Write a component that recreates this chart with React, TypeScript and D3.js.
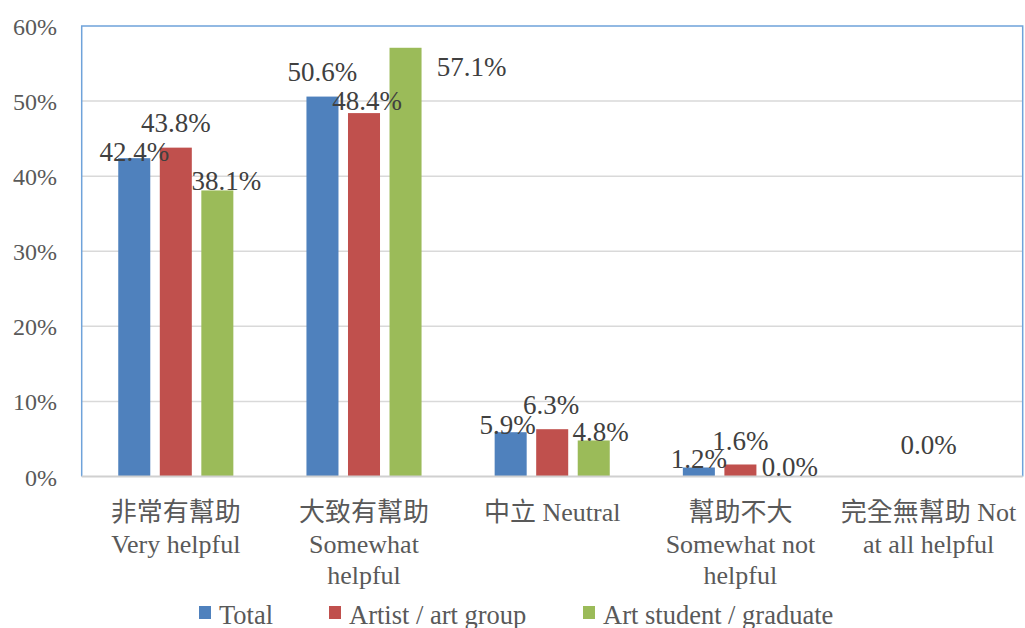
import React from "react";
import * as d3 from "d3";

const categories: string[][] = [
  ["非常有幫助", "Very helpful"],
  ["大致有幫助", "Somewhat", "helpful"],
  ["中立 Neutral"],
  ["幫助不大", "Somewhat not", "helpful"],
  ["完全無幫助 Not", "at all helpful"],
];
const seriesNames = ["Total", "Artist / art group", "Art student / graduate"];
const totalValues: (number | null)[] = [0.424, 0.506, 0.059, 0.012, null];
const artistValues: (number | null)[] = [0.438, 0.484, 0.063, 0.016, 0.0];
const studentValues: (number | null)[] = [0.381, 0.571, 0.048, 0.0, null];
const yTicks = [0, 0.1, 0.2, 0.3, 0.4, 0.5, 0.6];

// label nudges [dx, dy relative to bar top], per series per category
const labelNudges: [number, number][][] = [
  [[0, 3], [0, -16], [-3, 2], [0, 1], [0, 0]],
  [[0, -16], [3, -3], [-1, -15], [0, -14], [0, -23]],
  [[9, 0], [66, 28], [7, 1], [8, -1], [0, 0]],
];

const colors = ["#4F81BD", "#C0504D", "#9BBB59"];

const W = 1025;
const H = 628;
const left = 81.7;
const right = 1022.7;
const top = 26;
const bottom = 476.5;

const SERIF = "Liberation Serif";
const MIXED = "Liberation Serif, Noto Sans CJK TC";

export default function App() {
  const seriesValues = [totalValues, artistValues, studentValues];
  const x0 = d3.scaleBand<number>().domain(d3.range(categories.length)).range([left, right]).padding(0);
  const x1 = d3
    .scaleBand<number>()
    .domain([0, 1, 2])
    .range([0, x0.bandwidth()])
    .paddingInner(0.229)
    .paddingOuter(0.88);
  const y = d3.scaleLinear().domain([0, 0.6]).range([bottom, top]);
  const fmt = d3.format(".1%");

  return (
    <svg
      width={W}
      height={H}
      style={{ position: "absolute", left: 0, top: 0, background: "#fff" }}
    >
      <rect x={0} y={0} width={W} height={H} fill="#fff" />
      {/* gridlines */}
      {yTicks.slice(1, -1).map((t) => (
        <line key={t} x1={left} x2={right} y1={y(t)} y2={y(t)} stroke="#D9D9D9" strokeWidth={1.5} />
      ))}
      {/* plot border (top/left/right) */}
      <path
        d={`M${left},${bottom}V${top}H${right}V${bottom}`}
        fill="none"
        stroke="#6FA3DA"
        strokeWidth={1.5}
      />
      {/* y tick labels */}
      {yTicks.map((t) => (
        <text
          key={t}
          x={57}
          y={y(t) + 9}
          textAnchor="end"
          fontSize={24}
          fill="#595959"
          style={{ fontFamily: SERIF }}
        >
          {d3.format(".0%")(t)}
        </text>
      ))}
      {/* bars */}
      {seriesValues.map((vals, s) =>
        vals.map((v, c) =>
          v === null || v === 0 ? null : (
            <rect
              key={`b${s}-${c}`}
              x={(x0(c) as number) + (x1(s) as number)}
              y={y(v)}
              width={x1.bandwidth()}
              height={y(0) - y(v)}
              fill={colors[s]}
            />
          )
        )
      )}
      {/* x axis line */}
      <line x1={left} x2={right} y1={bottom} y2={bottom} stroke="#D0D0D0" strokeWidth={2} />
      {/* data labels */}
      {seriesValues.map((vals, s) =>
        vals.map((v, c) => {
          if (v === null) return null;
          const [dx, dy] = labelNudges[s][c];
          const cx = (x0(c) as number) + (x1(s) as number) + x1.bandwidth() / 2;
          return (
            <text
              key={`l${s}-${c}`}
              x={cx + dx}
              y={y(v) + dy}
              textAnchor="middle"
              fontSize={27}
              fill="#404040"
              style={{ fontFamily: SERIF }}
            >
              {fmt(v)}
            </text>
          );
        })
      )}
      {/* category labels */}
      {categories.map((lines, c) => (
        <text
          key={`c${c}`}
          x={(x0(c) as number) + x0.bandwidth() / 2}
          y={521}
          textAnchor="middle"
          fontSize={26}
          fill="#595959"
          style={{ fontFamily: MIXED }}
        >
          {lines.map((ln, i) => (
            <tspan key={i} x={(x0(c) as number) + x0.bandwidth() / 2} dy={i === 0 ? 0 : 31.5}>
              {ln}
            </tspan>
          ))}
        </text>
      ))}
      {/* legend */}
      {(() => {
        const legendX = [199, 329, 583];
        return seriesNames.map((n, s) => (
          <g key={`lg${s}`}>
            <rect x={legendX[s]} y={606} width={12} height={13} fill={colors[s]} />
            <text
              x={legendX[s] + 20}
              y={624}
              fontSize={26.5}
              fill="#595959"
              style={{ fontFamily: SERIF }}
            >
              {n}
            </text>
          </g>
        ));
      })()}
    </svg>
  );
}
